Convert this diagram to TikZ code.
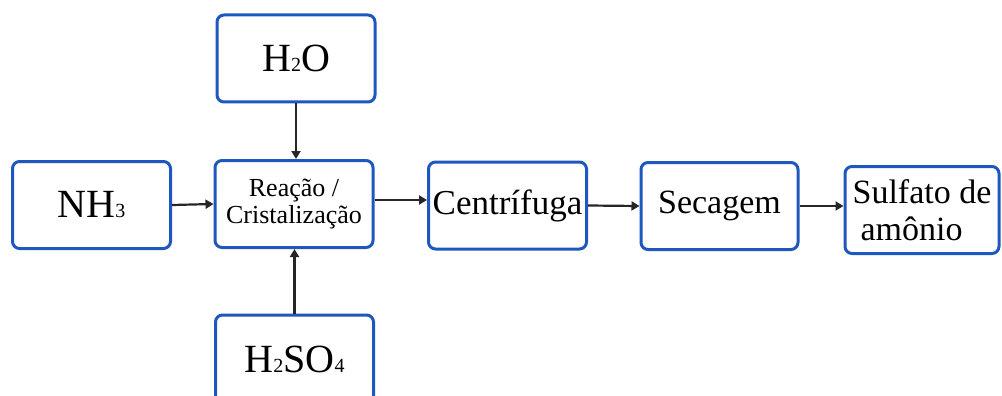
\documentclass[tikz,border=0pt]{standalone}
\usepackage{fontspec}
\setmainfont{Liberation Serif}
\usetikzlibrary{arrows.meta}
\definecolor{azulcaixa}{RGB}{30,88,190}
\newcommand{\ind}[1]{{\fontsize{20}{20}\selectfont #1}}

\begin{document}
\begin{tikzpicture}[x=1pt, y=-1pt, line join=round,
  caixa/.style={draw=azulcaixa, line width=3pt, rounded corners=7pt, fill=white,
    inner sep=0pt, minimum width=158pt, minimum height=87pt},
  seta/.style={-{Triangle[length=8pt,width=9pt]}, line width=2.2pt, draw=black!85}]
  \clip (0,0) rectangle (1002,396);
  % entradas
  \node[caixa, font=\rmfamily\fontsize{40}{44}\selectfont] (h2o) at (296,58.5) {H\ind{2}O};
  \node[caixa, font=\rmfamily\fontsize{40}{44}\selectfont] (nh3) at (91.5,205) {NH\ind{3}};
  \node[caixa, font=\rmfamily\fontsize{40}{44}\selectfont, minimum height=88pt] (h2so4) at (294.5,359) {H\ind{2}SO\ind{4}};
  % etapas do processo
  \node[caixa, align=center, font=\rmfamily\fontsize{26}{27}\selectfont] (reac) at (294,204) {Reação /\\Cristalização};
  \node[caixa, font=\rmfamily\fontsize{35}{38}\selectfont] (cent) at (507.5,205.5) {Centrífuga};
  \node[caixa, font=\rmfamily\fontsize{34}{38}\selectfont, minimum width=157pt] (sec) at (719.5,206) {Secagem};
  \node[caixa, align=left, font=\rmfamily\fontsize{34}{37}\selectfont, minimum width=154pt] (sulf) at (922,210) {Sulfato de\\\hspace*{8pt}amônio};
  % setas
  \draw[seta] (h2o.south) -- (h2o.south |- reac.north);
  \draw[seta] (h2so4.north) -- (h2so4.north |- reac.south);
  \draw[seta] (nh3.east) -- (reac.west);
  \draw[seta] ([yshift=4pt]reac.east) -- ([yshift=4pt]reac.east -| cent.west);
  \draw[seta] (cent.east) -- (sec.west);
  \draw[seta] (sec.east) -- (sec.east -| sulf.west);
\end{tikzpicture}
\end{document}
